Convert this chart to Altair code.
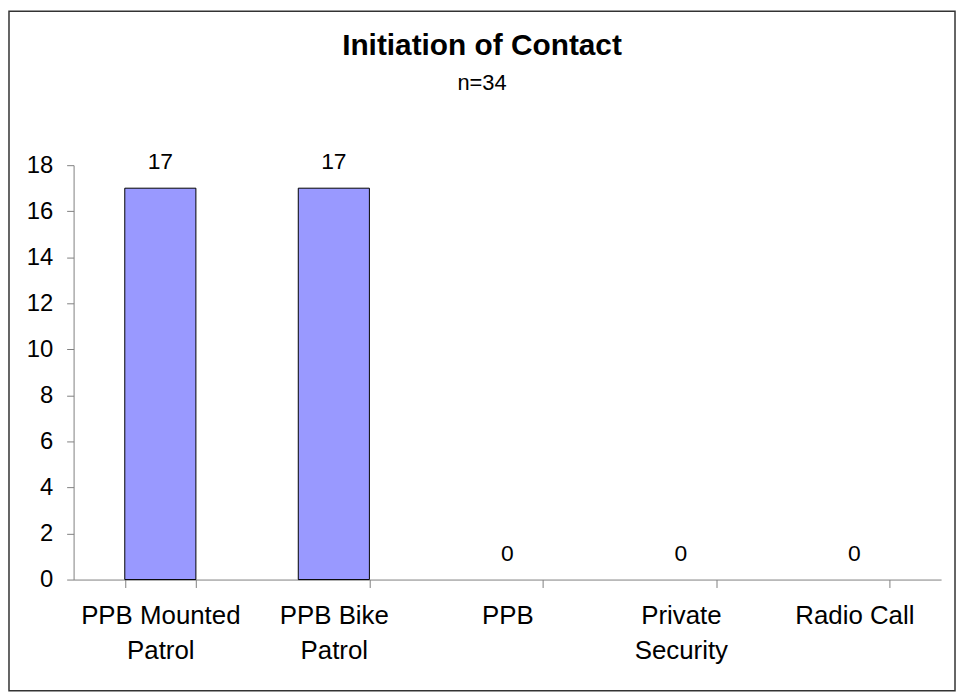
import altair as alt
import pandas as pd

categories = ["PPB Mounted Patrol", "PPB Bike Patrol", "PPB", "Private Security", "Radio Call"]
label_lines = [["PPB Mounted", "Patrol"], ["PPB Bike", "Patrol"], ["PPB"], ["Private", "Security"], ["Radio Call"]]
counts = [17, 17, 0, 0, 0]
title_text = "Initiation of Contact"
subtitle_text = "n=34"

df = pd.DataFrame({"category": categories, "count": counts})

W, H = 873, 417
PL, PT, PR, PB = 66, 156, 15, 113
FONT = "Liberation Sans"

expr = ""
for c, lines in zip(categories, label_lines):
    arr = "[" + ",".join("'" + l + "'" for l in lines) + "]"
    expr += f"datum.value == '{c}' ? {arr} : "
expr += "datum.value"

x = alt.X("category:N", sort=categories,
          scale=alt.Scale(paddingInner=0.59, paddingOuter=0.295),
          axis=alt.Axis(title=None, labelAngle=0, labelExpr=expr, tickBand="extent",
                        domainColor="#808080", tickColor="#808080", tickSize=8,
                        labelFont=FONT, labelFontSize=26, labelColor="black",
                        labelPadding=15, labelLineHeight=35, labelBaseline="top"))
y = alt.Y("count:Q", scale=alt.Scale(domain=[0, 18], nice=False),
          axis=alt.Axis(title=None, values=list(range(0, 19, 2)), grid=False,
                        domainColor="#808080", tickColor="#808080", tickSize=7,
                        labelFont=FONT, labelFontSize=24, labelColor="black",
                        labelPadding=14))

bars = alt.Chart(df).mark_bar(color="#9999FF", stroke="black", strokeWidth=1).encode(
    x=x, y=y,
    strokeOpacity=alt.condition("datum.count > 0", alt.value(1), alt.value(0)))
labels = alt.Chart(df).mark_text(font=FONT, fontSize=23, color="black", baseline="alphabetic", dy=-19).encode(
    x=alt.X("category:N", sort=categories), y="count:Q", text="count:Q")

tdf = pd.DataFrame({"t": [title_text]})
title = alt.Chart(tdf).mark_text(font=FONT, fontSize=30, fontWeight="bold", color="black",
                                 baseline="alphabetic", align="center").encode(
    x=alt.value(411), y=alt.value(-111), text="t:N")
sdf = pd.DataFrame({"t": [subtitle_text]})
subtitle = alt.Chart(sdf).mark_text(font=FONT, fontSize=22, color="black",
                                    baseline="alphabetic", align="center").encode(
    x=alt.value(411), y=alt.value(-76), text="t:N")

border = alt.Chart(pd.DataFrame({"a": [0]})).mark_rect(
    fill=None, stroke="#333333", strokeWidth=1.5).encode(
    x=alt.value(-PL + 1), x2=alt.value(W + PR - 1),
    y=alt.value(-PT + 1), y2=alt.value(H + PB - 1))

chart = alt.layer(bars, labels, title, subtitle, border).properties(
    width=W, height=H,
    autosize=alt.AutoSizeParams(type="none"),
    padding={"left": PL, "top": PT, "right": PR, "bottom": PB},
).configure_view(stroke=None)

chart.save("out.html", embed_options={"renderer": "svg", "actions": False})
